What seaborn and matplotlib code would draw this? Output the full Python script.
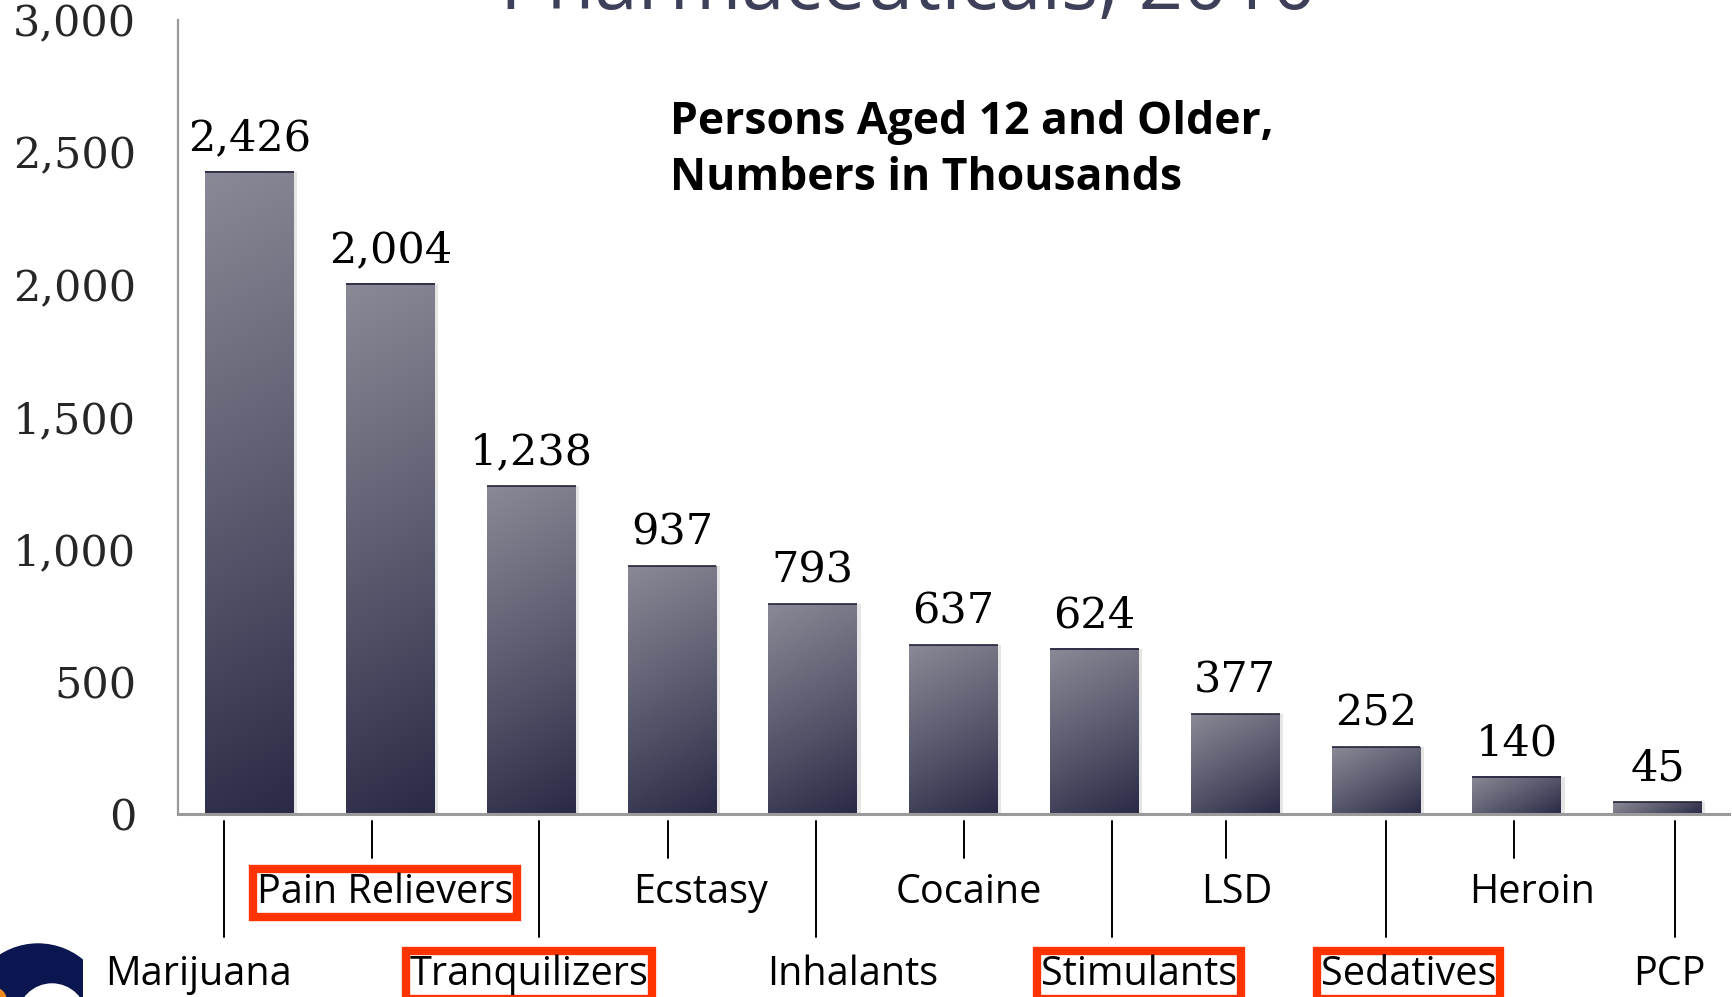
import numpy as np
import pandas as pd
import matplotlib
matplotlib.use("Agg")
import matplotlib.pyplot as plt
import seaborn as sns
from matplotlib.colors import LinearSegmentedColormap
from matplotlib.patches import Circle, Rectangle

# ---------------- data ----------------
categories = ["Marijuana", "Pain Relievers", "Tranquilizers", "Ecstasy", "Inhalants",
              "Cocaine", "Stimulants", "LSD", "Sedatives", "Heroin", "PCP"]
values = [2426, 2004, 1238, 937, 793, 637, 624, 377, 252, 140, 45]
highlighted = ["Pain Relievers", "Tranquilizers", "Stimulants", "Sedatives"]
y_ticks = [0, 500, 1000, 1500, 2000, 2500, 3000]
title_text = "Pharmaceuticals, 2010"
subtitle_text = "Persons Aged 12 and Older,\nNumbers in Thousands"

# ---------------- style (label/leader horizontal shifts, in bar units) ----------------
label_shift = [-0.36, -0.04, -0.015, 0.2, 0.28, 0.11, 0.32, 0.01, 0.23, 0.11, 0.08]
leader_shift = [-0.18, -0.13, 0.055, -0.03, 0.02, 0.074, 0.125, -0.065, 0.07, -0.02, 0.12]

W, H = 1732, 997
sns.set_style("white")
SANS = ["Open Sans", "DejaVu Sans"]
SERIF = ["DejaVu Serif"]
plt.rcParams["font.family"] = SANS

fig = plt.figure(figsize=(W / 100, H / 100), dpi=100)
ax_left, ax_bottom, ax_w, ax_h = 178, 183, 1729 - 178, 794
ax = fig.add_axes([ax_left / W, ax_bottom / H, ax_w / W, ax_h / H])

df = pd.DataFrame({"cat": categories, "val": values})
sns.barplot(data=df, x="cat", y="val", ax=ax, width=0.63, color="#555566", zorder=2)

xlim = (-0.508, 10.507)
ylim = (0, 3000)

cmap = LinearSegmentedColormap.from_list("bar", ["#8a8996", "#5c5c70", "#2a2a47"])
th = np.deg2rad(62)
for p in list(ax.patches):
    x0, w, h = p.get_x(), p.get_width(), p.get_height()
    wpx = w * ax_w / (xlim[1] - xlim[0])
    hpx = h * ax_h / (ylim[1] - ylim[0])
    # soft drop shadow
    ax.bar(x0 + w / 2 + 0.025, h, width=w, bottom=0, color="#000000", alpha=0.10,
           zorder=1.5, linewidth=0)
    u = np.linspace(0, wpx, 60)
    v = np.linspace(0, hpx, 300)
    U, V = np.meshgrid(u, v)
    T = (U * np.cos(th) + V * np.sin(th)) / (wpx * np.cos(th) + hpx * np.sin(th))
    ax.imshow(T, extent=(x0, x0 + w, 0, h), origin="upper", cmap=cmap, vmin=0, vmax=1,
              aspect="auto", interpolation="bilinear", zorder=2)
    ax.plot([x0, x0 + w], [h, h], color="#22223a", lw=1.2, zorder=3, solid_capstyle="butt")
    p.set_visible(False)

ax.set_xlim(*xlim)
ax.set_ylim(*ylim)

# value labels
for i, v in enumerate(values):
    ax.annotate(f"{v:,}", (i, v), xytext=(0, 9), textcoords="offset points",
                ha="center", va="bottom", fontsize=31, family=SERIF, color="black")

# axes styling
for s in ["top", "right"]:
    ax.spines[s].set_visible(False)
ax.spines["left"].set_color("#9a9a9a")
ax.spines["left"].set_linewidth(1.6)
ax.spines["bottom"].set_color("#9a9a9a")
ax.spines["bottom"].set_linewidth(2.2)
ax.set_yticks(y_ticks)
ax.set_yticklabels([f"{t:,}" for t in y_ticks], fontsize=31, family=SERIF)
ax.tick_params(axis="y", length=11, width=1.6, color="#9a9a9a", pad=19)
ax.tick_params(axis="x", length=0, labelbottom=False)
ax.set_xlabel("")
ax.set_ylabel("")

# leader lines and staggered category labels
trans = ax.get_xaxis_transform()
for i, cat in enumerate(categories):
    lower = (i % 2 == 0)
    xl = i + leader_shift[i]
    ax.plot([xl, xl], [-0.0088, -0.1549 if lower else -0.0554], transform=trans,
            color="black", lw=1.4, clip_on=False)
    bbox = None
    if cat in highlighted:
        bbox = dict(facecolor="white", edgecolor="#ff3300", linewidth=6,
                    boxstyle="square,pad=0.1")
    ax.text(i + label_shift[i], -0.2028 if lower else -0.0995, cat, transform=trans,
            ha="center", va="center", fontsize=28.5, family=SANS, color="black",
            bbox=bbox, clip_on=False)

# subtitle
fig.text(670 / W, 1 - 100 / H, subtitle_text, ha="left", va="top", fontsize=32,
         fontweight="bold", family=SANS, color="black", linespacing=1.32)

# title (cut at the top edge, as in the source slide)
fig.text(908 / W, 1 - 9 / H, title_text, ha="center", va="baseline", fontsize=56,
         family=SANS, color="#3e3f58")

# logo fragment in bottom-left corner
lax = fig.add_axes([0, 0, 1, 1], zorder=-1)
lax.set_xlim(0, W)
lax.set_ylim(H, 0)
lax.axis("off")
clip = Rectangle((0, 900), 83, 120, transform=lax.transData)
navy = Circle((38, 1014), 70, color="#0b1550")
lax.add_patch(navy)
navy.set_clip_path(clip)
lax.add_patch(Circle((52, 1018), 34, color="white"))
orange = Circle((-6, 1000), 12, color="#f08a1c")
lax.add_patch(orange)

fig.savefig("out.png", dpi=100)
